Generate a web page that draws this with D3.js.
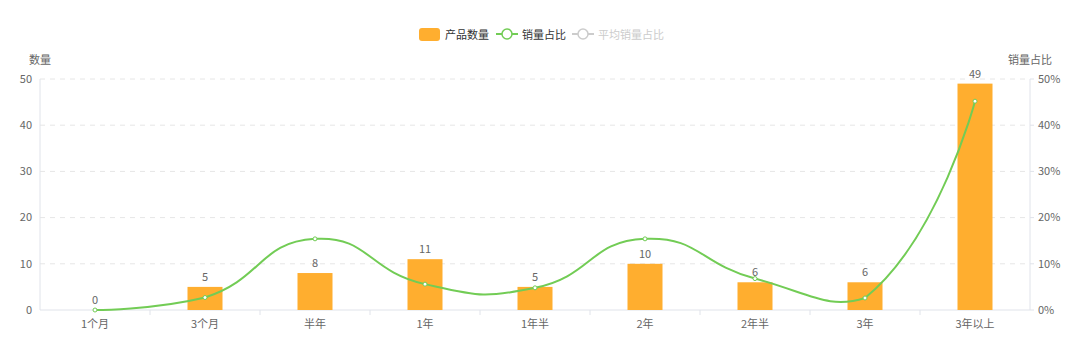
<!DOCTYPE html>
<html>
<head>
<meta charset="utf-8">
<script src="https://cdn.jsdelivr.net/npm/d3@7.9.0/dist/d3.min.js"></script>
<style>
  html, body { margin: 0; padding: 0; background: #fff; }
  svg { display: block; font-family: "Microsoft YaHei", "Noto Sans CJK SC", sans-serif; }
</style>
</head>
<body>
<svg id="chart" width="1080" height="351"></svg>
<script>
const categories = ['1个月', '3个月', '半年', '1年', '1年半', '2年', '2年半', '3年', '3年以上'];
const counts = [0, 5, 8, 11, 5, 10, 6, 6, 49];
const salesShare = [0, 2.7, 15.4, 5.6, 4.8, 15.4, 6.8, 2.6, 45.2];
const leftTicks = [0, 10, 20, 30, 40, 50];
const rightTicks = [0, 10, 20, 30, 40, 50];

const barColor = '#ffae2f';
const lineColor = '#72cc55';
const textColor = '#666';
const axisColor = '#e0e3ea';
const fs = 11;

const margin = { top: 79, right: 50, bottom: 41, left: 40 };
const width = 1080, height = 351;
const svg = d3.select('#chart');

const x = d3.scaleBand().domain(categories).range([margin.left, width - margin.right]);
const yL = d3.scaleLinear().domain([0, 50]).range([height - margin.bottom, margin.top]);
const yR = d3.scaleLinear().domain([0, 50]).range([height - margin.bottom, margin.top]);

// grid
svg.append('g')
  .selectAll('line')
  .data(leftTicks.slice(1))
  .join('line')
  .attr('x1', margin.left).attr('x2', width - margin.right)
  .attr('y1', d => yL(d)).attr('y2', d => yL(d))
  .attr('stroke', '#e6e6e6')
  .attr('stroke-dasharray', '5,5');

// left axis
const left = svg.append('g');
left.append('line')
  .attr('x1', margin.left).attr('x2', margin.left)
  .attr('y1', yL(50)).attr('y2', yL(0))
  .attr('stroke', axisColor);
left.selectAll('text.tick')
  .data(leftTicks)
  .join('text')
  .attr('x', margin.left - 8).attr('y', d => yL(d))
  .attr('dy', '0.35em').attr('text-anchor', 'end')
  .attr('font-size', fs).attr('fill', textColor)
  .text(d => d);
left.append('text')
  .attr('x', 40).attr('y', 64).attr('text-anchor', 'middle')
  .attr('font-size', fs).attr('fill', textColor).text('数量');

// right axis
const rx = width - margin.right;
const right = svg.append('g');
right.append('line')
  .attr('x1', rx).attr('x2', rx)
  .attr('y1', yR(50)).attr('y2', yR(0))
  .attr('stroke', axisColor);
right.selectAll('line.tk')
  .data(rightTicks)
  .join('line')
  .attr('x1', rx).attr('x2', rx + 4)
  .attr('y1', d => yR(d)).attr('y2', d => yR(d))
  .attr('stroke', axisColor);
right.selectAll('text')
  .data(rightTicks)
  .join('text')
  .attr('x', rx + 8).attr('y', d => yR(d))
  .attr('dy', '0.35em').attr('text-anchor', 'start')
  .attr('font-size', fs).attr('fill', textColor)
  .text(d => d + '%');
right.append('text')
  .attr('x', 1030).attr('y', 64).attr('text-anchor', 'middle')
  .attr('font-size', fs).attr('fill', textColor).text('销量占比');

// x axis
const bottom = svg.append('g');
bottom.append('line')
  .attr('x1', margin.left).attr('x2', width - margin.right)
  .attr('y1', yL(0)).attr('y2', yL(0))
  .attr('stroke', axisColor);
bottom.selectAll('line.tk')
  .data(categories.slice(1))
  .join('line')
  .attr('x1', d => x(d)).attr('x2', d => x(d))
  .attr('y1', yL(0)).attr('y2', yL(0) + 5)
  .attr('stroke', axisColor);
bottom.selectAll('text')
  .data(categories)
  .join('text')
  .attr('x', d => x(d) + x.bandwidth() / 2)
  .attr('y', yL(0) + 18)
  .attr('text-anchor', 'middle')
  .attr('font-size', fs).attr('fill', textColor)
  .text(d => d);

// bars
const barW = 35;
svg.append('g')
  .selectAll('rect')
  .data(counts)
  .join('rect')
  .attr('x', (d, i) => x(categories[i]) + x.bandwidth() / 2 - barW / 2)
  .attr('y', d => yL(d))
  .attr('width', barW)
  .attr('height', d => yL(0) - yL(d))
  .attr('fill', barColor);

svg.append('g')
  .selectAll('text')
  .data(counts)
  .join('text')
  .attr('x', (d, i) => x(categories[i]) + x.bandwidth() / 2)
  .attr('y', d => yL(d) - 6)
  .attr('text-anchor', 'middle')
  .attr('font-size', fs).attr('fill', textColor)
  .text(d => d);

// smooth line, same control-point rule as the echarts poly smoothing
function smoothPath(pts, smooth) {
  const p = d3.path();
  const minY = d3.min(pts, d => d[1]), maxY = d3.max(pts, d => d[1]);
  const minX = d3.min(pts, d => d[0]), maxX = d3.max(pts, d => d[0]);
  const clamp = (c) => [Math.max(minX, Math.min(maxX, c[0])), Math.max(minY, Math.min(maxY, c[1]))];
  let cp0 = pts[0];
  p.moveTo(pts[0][0], pts[0][1]);
  for (let i = 1; i < pts.length; i++) {
    const cur = pts[i], prev = pts[i - 1], next = pts[i + 1];
    let cp1 = cur, nextCp0 = cur;
    if (next) {
      const v = [next[0] - prev[0], next[1] - prev[1]];
      const lp = Math.hypot(cur[0] - prev[0], cur[1] - prev[1]);
      const ln = Math.hypot(next[0] - cur[0], next[1] - cur[1]);
      const r = ln / (ln + lp);
      cp1 = [cur[0] - v[0] * smooth * (1 - r), cur[1] - v[1] * smooth * (1 - r)];
      nextCp0 = [cur[0] + v[0] * smooth * r, cur[1] + v[1] * smooth * r];
    }
    const a = clamp(cp0), b = clamp(cp1);
    p.bezierCurveTo(a[0], a[1], b[0], b[1], cur[0], cur[1]);
    cp0 = nextCp0;
  }
  return p.toString();
}

const pts = salesShare.map((v, i) => [x(categories[i]) + x.bandwidth() / 2, yR(v)]);
svg.append('path')
  .attr('d', smoothPath(pts, 0.5))
  .attr('fill', 'none')
  .attr('stroke', lineColor)
  .attr('stroke-width', 2);
svg.append('g')
  .selectAll('circle')
  .data(pts)
  .join('circle')
  .attr('cx', d => d[0]).attr('cy', d => d[1])
  .attr('r', 2)
  .attr('fill', '#fff')
  .attr('stroke', lineColor)
  .attr('stroke-width', 1);

// legend
const lg = svg.append('g').attr('font-size', fs);
lg.append('rect')
  .attr('x', 419).attr('y', 28).attr('width', 21).attr('height', 13).attr('rx', 3)
  .attr('fill', barColor);
lg.append('text').attr('x', 445).attr('y', 35).attr('dy', '0.35em')
  .attr('fill', '#333').text('产品数量');

lg.append('line').attr('x1', 496).attr('x2', 518).attr('y1', 34).attr('y2', 34)
  .attr('stroke', lineColor).attr('stroke-width', 2);
lg.append('circle').attr('cx', 507).attr('cy', 34).attr('r', 5)
  .attr('fill', '#fff').attr('stroke', lineColor).attr('stroke-width', 1.5);
lg.append('text').attr('x', 522).attr('y', 35).attr('dy', '0.35em')
  .attr('fill', '#333').text('销量占比');

lg.append('line').attr('x1', 572).attr('x2', 594).attr('y1', 34).attr('y2', 34)
  .attr('stroke', '#ccc').attr('stroke-width', 2);
lg.append('circle').attr('cx', 583).attr('cy', 34).attr('r', 5)
  .attr('fill', '#fff').attr('stroke', '#ccc').attr('stroke-width', 1.5);
lg.append('text').attr('x', 598).attr('y', 35).attr('dy', '0.35em')
  .attr('fill', '#ccc').text('平均销量占比');
</script>
</body>
</html>
